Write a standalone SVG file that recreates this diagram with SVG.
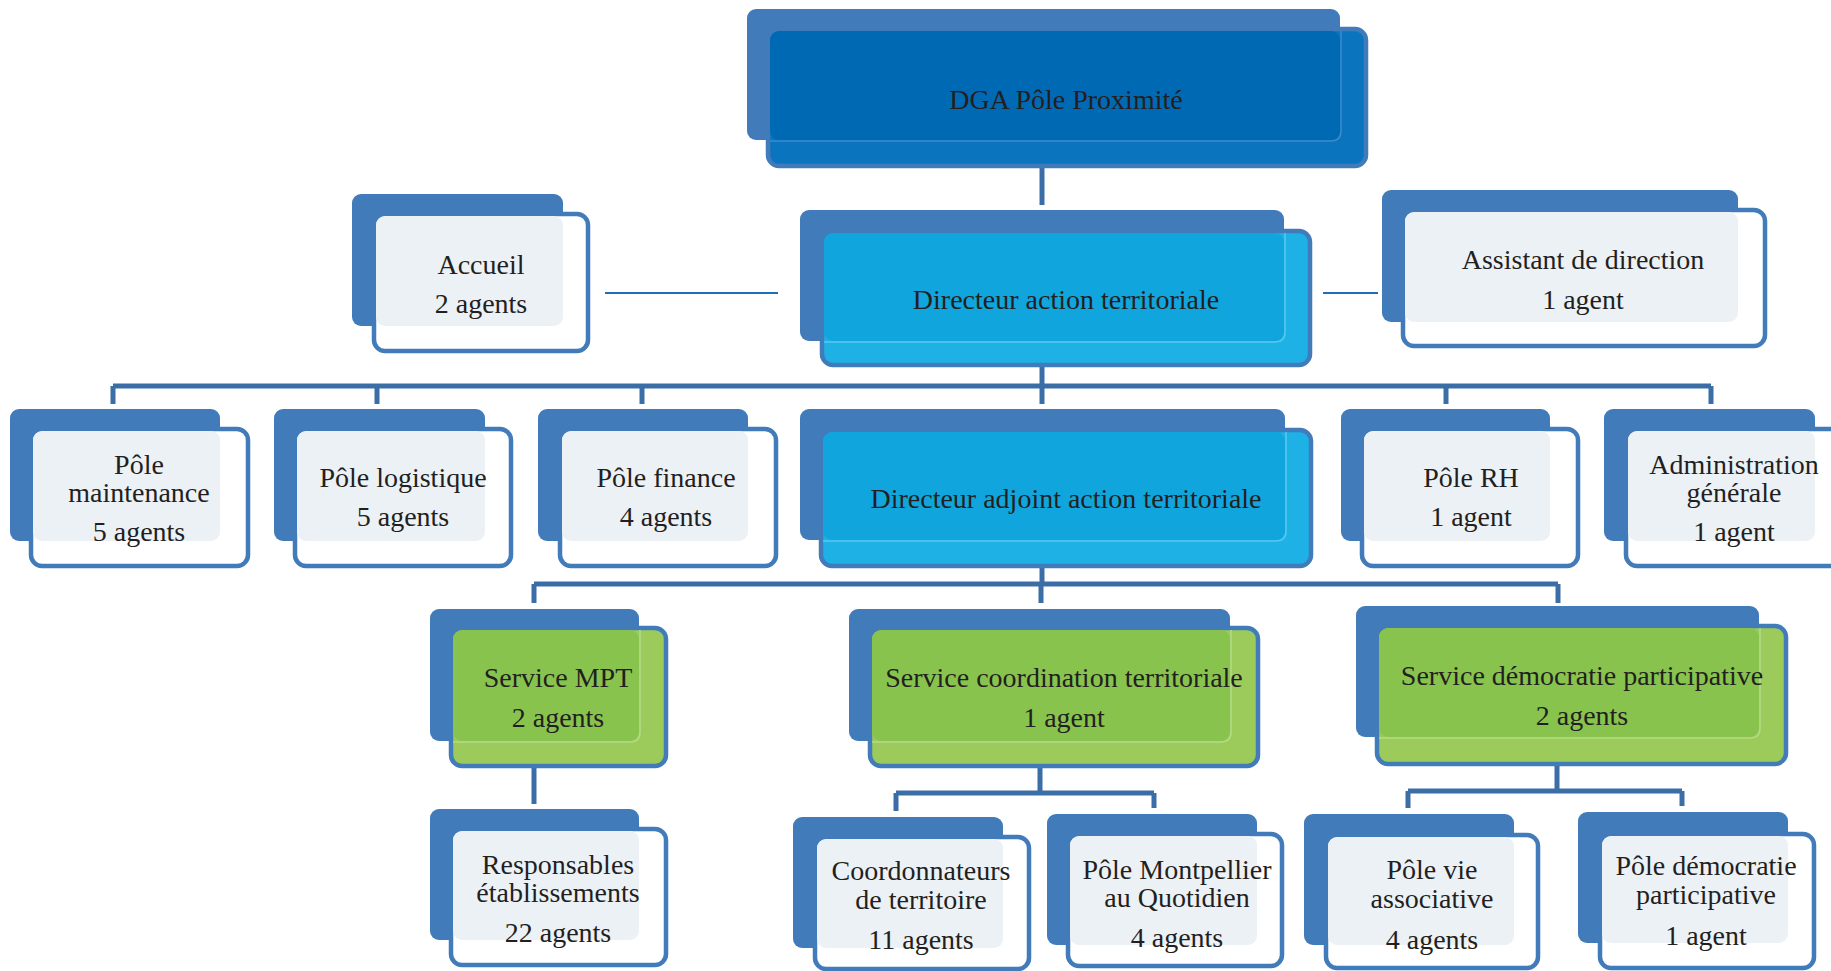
<svg xmlns="http://www.w3.org/2000/svg" width="1831" height="971" viewBox="0 0 1831 971">
<style>
.back{fill:#427BBA}
.front{stroke:#427BBA;stroke-width:4.5}
.fw{fill:#FFFFFF}
.ow{fill:#ECF1F6}
.fd{fill:#0A74BF}
.od{fill:#0069B4}
.ld{stroke:#3A8CCB;stroke-width:1.5;fill:none}
.fc{fill:#1DB1E6}
.oc{fill:#10A5DD}
.lc{stroke:#5CC6EE;stroke-width:1.5;fill:none}
.fg{fill:#9CCB5C}
.og{fill:#88C34E}
.lg{stroke:#B4DA86;stroke-width:1.5;fill:none}
.t{font-family:"Liberation Serif","Times New Roman",serif;font-size:28px;fill:#231F20;text-anchor:middle}
.bus{stroke:#3B6EA7;stroke-width:5;fill:none}
.thin{stroke:#1E6FB8;stroke-width:2;fill:none}
</style>
<rect width="1831" height="971" fill="#FFFFFF"/>
<g id="connectors">
<path class="bus" d="M1042 166V205"/>
<path class="thin" d="M605 293H778"/>
<path class="thin" d="M1323 293H1378"/>
<path class="bus" d="M1042 366V386M113 386H1711M113 386V404M377 386V404M642 386V404M1042 386V404M1446 386V404M1711 386V404"/>
<path class="bus" d="M1042 566V584M534 584H1558M534 584V603M1041 584V603M1558 584V603"/>
<path class="bus" d="M534 766V804"/>
<path class="bus" d="M1040 766V793M896 793H1154M896 793V811M1154 793V808"/>
<path class="bus" d="M1557 764V791M1408 791H1682M1408 791V808M1682 791V806"/>
</g>
<g id="dga">
<rect class="back" x="747" y="9" width="593" height="131" rx="9"/>
<rect class="front fd" x="768" y="29" width="598" height="137" rx="11"/>
<rect class="od" x="770" y="31" width="570" height="109" rx="9"/>
<path class="ld" d="M1341 31V131Q1341 141 1331 141H770"/>
<text class="t" x="1066" y="109">DGA Pôle Proximité</text>
</g>
<g id="accueil">
<rect class="back" x="352" y="194" width="211" height="132" rx="9"/>
<rect class="front fw" x="374" y="214" width="214" height="137" rx="11"/>
<rect class="ow" x="376" y="216" width="187" height="110" rx="9"/>
<text class="t" x="481" y="274">Accueil</text>
<text class="t" x="481" y="313">2 agents</text>
</g>
<g id="directeur">
<rect class="back" x="800" y="210" width="484" height="131" rx="9"/>
<rect class="front fc" x="822" y="231" width="488" height="134" rx="11"/>
<rect class="oc" x="824" y="233" width="460" height="108" rx="9"/>
<path class="lc" d="M1285 233V332Q1285 342 1275 342H824"/>
<text class="t" x="1066" y="309">Directeur action territoriale</text>
</g>
<g id="assistant">
<rect class="back" x="1382" y="190" width="356" height="132" rx="9"/>
<rect class="front fw" x="1403" y="210" width="362" height="136" rx="11"/>
<rect class="ow" x="1405" y="212" width="333" height="110" rx="9"/>
<text class="t" x="1583" y="269">Assistant de direction</text>
<text class="t" x="1583" y="309">1 agent</text>
</g>
<g id="pole-maintenance">
<rect class="back" x="10" y="409" width="210" height="132" rx="9"/>
<rect class="front fw" x="31" y="429" width="217" height="137" rx="11"/>
<rect class="ow" x="33" y="431" width="187" height="110" rx="9"/>
<text class="t" x="139" y="474">Pôle</text>
<text class="t" x="139" y="502">maintenance</text>
<text class="t" x="139" y="541">5 agents</text>
</g>
<g id="pole-logistique">
<rect class="back" x="274" y="409" width="211" height="132" rx="9"/>
<rect class="front fw" x="295" y="429" width="216" height="137" rx="11"/>
<rect class="ow" x="297" y="431" width="188" height="110" rx="9"/>
<text class="t" x="403" y="487">Pôle logistique</text>
<text class="t" x="403" y="526">5 agents</text>
</g>
<g id="pole-finance">
<rect class="back" x="538" y="409" width="210" height="132" rx="9"/>
<rect class="front fw" x="560" y="429" width="216" height="137" rx="11"/>
<rect class="ow" x="562" y="431" width="186" height="110" rx="9"/>
<text class="t" x="666" y="487">Pôle finance</text>
<text class="t" x="666" y="526">4 agents</text>
</g>
<g id="directeur-adjoint">
<rect class="back" x="800" y="409" width="485" height="131" rx="9"/>
<rect class="front fc" x="821" y="430" width="490" height="136" rx="11"/>
<rect class="oc" x="823" y="432" width="462" height="108" rx="9"/>
<path class="lc" d="M1286 432V531Q1286 541 1276 541H823"/>
<text class="t" x="1066" y="508">Directeur adjoint action territoriale</text>
</g>
<g id="pole-rh">
<rect class="back" x="1341" y="409" width="209" height="132" rx="9"/>
<rect class="front fw" x="1362" y="429" width="216" height="137" rx="11"/>
<rect class="ow" x="1364" y="431" width="186" height="110" rx="9"/>
<text class="t" x="1471" y="487">Pôle RH</text>
<text class="t" x="1471" y="526">1 agent</text>
</g>
<g id="administration-generale">
<rect class="back" x="1604" y="409" width="211" height="132" rx="9"/>
<rect class="front fw" x="1626" y="429" width="230" height="137" rx="11"/>
<rect class="ow" x="1628" y="431" width="187" height="110" rx="9"/>
<text class="t" x="1734" y="474">Administration</text>
<text class="t" x="1734" y="502">générale</text>
<text class="t" x="1734" y="541">1 agent</text>
</g>
<g id="service-mpt">
<rect class="back" x="430" y="609" width="209" height="132" rx="9"/>
<rect class="front fg" x="451" y="628" width="215" height="138" rx="11"/>
<rect class="og" x="453" y="630" width="186" height="111" rx="9"/>
<path class="lg" d="M640 630V732Q640 742 630 742H453"/>
<text class="t" x="558" y="687">Service MPT</text>
<text class="t" x="558" y="727">2 agents</text>
</g>
<g id="service-coordination">
<rect class="back" x="849" y="609" width="381" height="132" rx="9"/>
<rect class="front fg" x="870" y="628" width="388" height="138" rx="11"/>
<rect class="og" x="872" y="630" width="358" height="111" rx="9"/>
<path class="lg" d="M1231 630V732Q1231 742 1221 742H872"/>
<text class="t" x="1064" y="687">Service coordination territoriale</text>
<text class="t" x="1064" y="727">1 agent</text>
</g>
<g id="service-democratie">
<rect class="back" x="1356" y="606" width="403" height="131" rx="9"/>
<rect class="front fg" x="1377" y="626" width="409" height="138" rx="11"/>
<rect class="og" x="1379" y="628" width="380" height="109" rx="9"/>
<path class="lg" d="M1760 628V728Q1760 738 1750 738H1379"/>
<text class="t" x="1582" y="685">Service démocratie participative</text>
<text class="t" x="1582" y="725">2 agents</text>
</g>
<g id="responsables">
<rect class="back" x="430" y="809" width="209" height="131" rx="9"/>
<rect class="front fw" x="451" y="829" width="215" height="136" rx="11"/>
<rect class="ow" x="453" y="831" width="186" height="109" rx="9"/>
<text class="t" x="558" y="874">Responsables</text>
<text class="t" x="558" y="902">établissements</text>
<text class="t" x="558" y="942">22 agents</text>
</g>
<g id="coordonnateurs">
<rect class="back" x="793" y="817" width="210" height="131" rx="9"/>
<rect class="front fw" x="815" y="837" width="214" height="132" rx="11"/>
<rect class="ow" x="817" y="839" width="186" height="109" rx="9"/>
<text class="t" x="921" y="880">Coordonnateurs</text>
<text class="t" x="921" y="909">de territoire</text>
<text class="t" x="921" y="949">11 agents</text>
</g>
<g id="pole-montpellier">
<rect class="back" x="1047" y="814" width="210" height="131" rx="9"/>
<rect class="front fw" x="1068" y="834" width="214" height="132" rx="11"/>
<rect class="ow" x="1070" y="836" width="187" height="109" rx="9"/>
<text class="t" x="1177" y="879">Pôle Montpellier</text>
<text class="t" x="1177" y="907">au Quotidien</text>
<text class="t" x="1177" y="947">4 agents</text>
</g>
<g id="pole-vie-associative">
<rect class="back" x="1304" y="814" width="210" height="131" rx="9"/>
<rect class="front fw" x="1326" y="835" width="212" height="133" rx="11"/>
<rect class="ow" x="1328" y="837" width="186" height="108" rx="9"/>
<text class="t" x="1432" y="879">Pôle vie</text>
<text class="t" x="1432" y="908">associative</text>
<text class="t" x="1432" y="949">4 agents</text>
</g>
<g id="pole-democratie">
<rect class="back" x="1578" y="812" width="210" height="131" rx="9"/>
<rect class="front fw" x="1600" y="834" width="214" height="134" rx="11"/>
<rect class="ow" x="1602" y="836" width="186" height="107" rx="9"/>
<text class="t" x="1706" y="875">Pôle démocratie</text>
<text class="t" x="1706" y="904">participative</text>
<text class="t" x="1706" y="945">1 agent</text>
</g>
</svg>
